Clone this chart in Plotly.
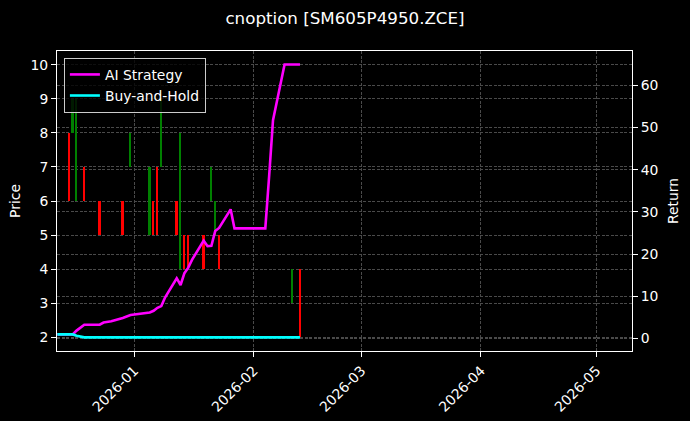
import plotly.graph_objects as go

# trading days shown on the chart
days = [
    "2025-12-12", "2025-12-15", "2025-12-16", "2025-12-17", "2025-12-18", "2025-12-19",
    "2025-12-22", "2025-12-23", "2025-12-24", "2025-12-25", "2025-12-26",
    "2025-12-29", "2025-12-30", "2025-12-31",
    "2026-01-05", "2026-01-06", "2026-01-07", "2026-01-08", "2026-01-09",
    "2026-01-12", "2026-01-13", "2026-01-14", "2026-01-15", "2026-01-16",
    "2026-01-19", "2026-01-20", "2026-01-21", "2026-01-22", "2026-01-23",
    "2026-01-26", "2026-01-27", "2026-01-28", "2026-01-29", "2026-01-30",
    "2026-02-02", "2026-02-03", "2026-02-04", "2026-02-05", "2026-02-06",
    "2026-02-09", "2026-02-10", "2026-02-11", "2026-02-12", "2026-02-13",
]
ai_strategy = [
    1.0, 1.0, 1.0, 1.9, 2.7, 3.3,
    3.3, 3.3, 3.8, 3.9, 4.1,
    4.9, 5.3, 5.6,
    6.2, 6.6, 7.3, 7.7, 9.8,
    14.3, 12.7, 15.5, 16.8, 18.7,
    23.2, 21.9, 22.0, 25.5, 26.2,
    30.6, 26.1, 26.1, 26.1, 26.1,
    26.1, 26.1, 26.1, 38.5, 51.7,
    64.9, 64.9, 64.9, 64.9, 64.9,
]
buy_hold = [
    1.0, 1.0, 1.0, 0.7, 0.45, 0.3,
    0.3, 0.3, 0.3, 0.3, 0.3,
    0.3, 0.3, 0.3,
    0.3, 0.3, 0.3, 0.3, 0.3,
    0.3, 0.3, 0.3, 0.3, 0.3,
    0.3, 0.3, 0.3, 0.3, 0.3,
    0.3, 0.3, 0.3, 0.3, 0.3,
    0.3, 0.3, 0.3, 0.3, 0.3,
    0.3, 0.3, 0.3, 0.3, 0.3,
]

# candle bodies (open / close)
candle_days = [
    "2025-12-15", "2025-12-16", "2025-12-17", "2025-12-19", "2025-12-23",
    "2025-12-29", "2025-12-31", "2026-01-05", "2026-01-06", "2026-01-07",
    "2026-01-08", "2026-01-12", "2026-01-13", "2026-01-14", "2026-01-15",
    "2026-01-19", "2026-01-21", "2026-01-22", "2026-01-23", "2026-02-11",
    "2026-02-13",
]
candle_open = [8, 8, 6, 7, 6, 6, 7, 5, 6, 7, 7, 6, 4, 5, 5, 5, 6, 5, 5, 3, 4]
candle_close = [6, 9, 9, 6, 5, 5, 8, 7, 5, 5, 9, 5, 8, 4, 4, 4, 7, 6, 4, 4, 2]

FONT = "DejaVu Sans"
GRID = "#4a4a4a"

bases = [min(o, c) for o, c in zip(candle_open, candle_close)]
heights = [abs(c - o) for o, c in zip(candle_open, candle_close)]
colors = ["green" if c >= o else "red" for o, c in zip(candle_open, candle_close)]

fig = go.Figure()

# candles (price axis)
fig.add_trace(go.Bar(
    x=candle_days, y=heights, base=bases,
    width=0.45 * 86400000,
    marker=dict(color=colors, line=dict(width=0)),
    showlegend=False, yaxis="y",
))

# strategy curves (return axis)
fig.add_trace(go.Scatter(x=days, y=ai_strategy, mode="lines", name="AI Strategy",
                         line=dict(color="#ff00ff", width=2.6), yaxis="y2"))
fig.add_trace(go.Scatter(x=days, y=buy_hold, mode="lines", name="Buy-and-Hold",
                         line=dict(color="#00ffff", width=2.6), yaxis="y2"))

axis_style = dict(
    showline=True, linecolor="white", linewidth=1,
    ticks="outside", ticklen=5, tickwidth=1, tickcolor="white",
    tickfont=dict(color="white", size=13.9, family=FONT),
    showgrid=True, gridcolor=GRID, gridwidth=0.6, griddash="3px,1.5px",
    zeroline=False, automargin=False,
)

fig.update_layout(
    width=690, height=421,
    paper_bgcolor="black", plot_bgcolor="black",
    margin=dict(l=57, r=58, t=51, b=70),
    font=dict(family=FONT, color="white", size=13.9),
    title=dict(text="cnoption [SM605P4950.ZCE]", x=0.5, xanchor="center",
               y=0.957, yanchor="middle",
               font=dict(size=16.7, color="white", family=FONT)),
    xaxis=dict(
        type="date", range=["2025-12-11 22:00", "2026-05-10 05:00"],
        dtick="M1", tick0="2026-01-01", tickformat="%Y-%m", tickangle=-45,
        mirror=True, **axis_style,
    ),
    yaxis=dict(
        range=[1.6, 10.4], dtick=1, tick0=0, mirror=True,
        title=dict(text="Price", font=dict(size=13.9, color="white", family=FONT), standoff=6),
        **axis_style,
    ),
    yaxis2=dict(
        range=[-2.93, 68.1], dtick=10, tick0=0, overlaying="y", side="right",
        title=dict(text="Return", font=dict(size=13.9, color="white", family=FONT), standoff=10),
        **axis_style,
    ),
    legend=dict(
        x=0.012, y=0.977, xanchor="left", yanchor="top",
        bgcolor="rgba(0,0,0,0.8)", bordercolor="#cccccc", borderwidth=1,
        font=dict(size=13.9, color="white", family=FONT),
    ),
    bargap=0,
)

fig.write_html(
    "out.html",
    config={"displayModeBar": False},
    post_script="document.body.style.margin='0';document.body.style.background='black';",
)
